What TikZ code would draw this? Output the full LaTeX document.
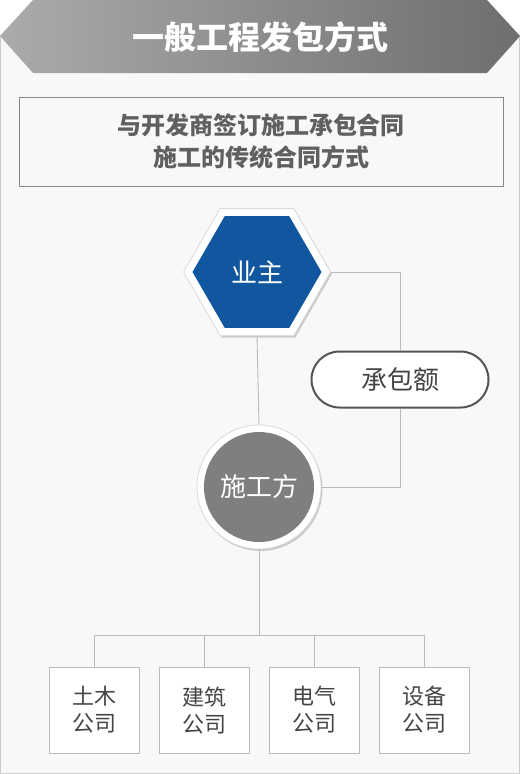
\documentclass[tikz,border=0pt]{standalone}
\usepackage{fontspec}
\setmainfont{Noto Sans CJK SC}
\usetikzlibrary{shapes.geometric,shadows}
\definecolor{panelbg}{HTML}{F8F8F8}
\definecolor{panelline}{HTML}{CCCCCC}
\definecolor{hdrL}{HTML}{ABABAB}
\definecolor{hdrR}{HTML}{6E6E6E}
\definecolor{ownerblue}{HTML}{11579F}
\definecolor{circgray}{HTML}{7F7F7F}
\definecolor{conn}{HTML}{BBBBBB}
\definecolor{txtgray}{HTML}{444444}
\definecolor{boxline}{HTML}{888888}
\tikzset{
  connector/.style={draw=conn, line width=0.9pt},
  company/.style={draw=conn, fill=white, line width=0.9pt, minimum width=90pt, minimum height=86pt,
     inner sep=0pt, align=center, text=txtgray, font=\fontsize{22}{27}\selectfont},
  softshadow/.style={drop shadow={shadow xshift=1.5pt, shadow yshift=-2pt, opacity=0.18, fill=black}},
  bigtext/.style={font=\fontsize{26}{28}\selectfont},
}
\begin{document}
\begin{tikzpicture}[x=1pt,y=-1pt]
\useasboundingbox (0,0) rectangle (520,774);
% panel
\draw[fill=panelbg, draw=panelline, line width=1pt] (0.5,36) rectangle (519.5,773.5);
% header
\shade[left color=hdrL, right color=hdrR] (33,0) -- (487,0) -- (520,36) -- (487,73) -- (33,73) -- (0,36) -- cycle;
\node[text=white, font=\fontsize{32}{34}\selectfont\bfseries] (title) at (260,37) {一般工程发包方式};
% description box
\node[draw=boxline, line width=0.9pt, minimum width=484pt, minimum height=89pt, inner sep=0pt,
      align=center, text=txtgray!85!white, font=\fontsize{24}{32}\selectfont\bfseries] (desc) at (261,141.5)
      {与开发商签订施工承包合同\\施工的传统合同方式};
% owner hexagon
\node[regular polygon, regular polygon sides=6, minimum size=147pt, inner sep=0pt,
      fill=white, draw=black!15, line width=0.8pt, softshadow] (ownerbg) at (257,272) {};
\node[regular polygon, regular polygon sides=6, minimum size=129pt, inner sep=0pt,
      fill=ownerblue, text=white, bigtext] (owner) at (257,272) {业主};
% contractor circle
\node[circle, minimum size=124pt, inner sep=0pt, fill=white, draw=black!15, line width=0.8pt, softshadow] (contrbg) at (259,487) {};
\node[circle, minimum size=110pt, inner sep=0pt, fill=circgray, text=white, bigtext] (contr) at (259,487) {施工方};
% amount pill
\node[draw=black!67, line width=2pt, fill=white, rounded corners=28pt, minimum width=177pt, minimum height=56pt,
      inner sep=0pt, text=txtgray, bigtext] (amount) at (400,379.5) {承包额};
% connectors
\draw[connector] (ownerbg.south) -- (contrbg.north);
\draw[connector] (ownerbg.east) -| (amount.north);
\draw[connector] (amount.south) |- (contrbg.east);
% companies
\node[company] (c1) at (94,710) {土木\\公司};
\node[company] (c2) at (204,710) {建筑\\公司};
\node[company] (c3) at (314,710) {电气\\公司};
\node[company] (c4) at (424,710) {设备\\公司};
\coordinate (bus) at (259,635);
\draw[connector] (contrbg.south) -- (bus);
\draw[connector] (bus) -| (c1.north);
\draw[connector] (bus) -| (c4.north);
\draw[connector] (c2.north) -- (c2.north |- bus);
\draw[connector] (c3.north) -- (c3.north |- bus);
\end{tikzpicture}
\end{document}
